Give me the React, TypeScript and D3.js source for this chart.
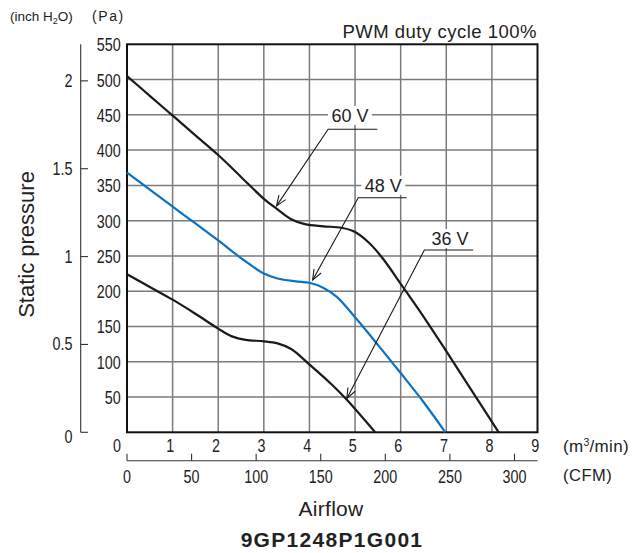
import React from 'react';
import * as d3 from 'd3';

// ---- Data ----
const airflowTicks = [0, 1, 2, 3, 4, 5, 6, 7, 8, 9]; // m3/min
const cfmTicks = [0, 50, 100, 150, 200, 250, 300];
const paTicks = [50, 100, 150, 200, 250, 300, 350, 400, 450, 500, 550];
const inchTicks = [0, 0.5, 1, 1.5, 2];

const v60Flow = [0, 0.5, 1, 1.5, 2, 2.5, 3.0, 3.3, 3.6, 3.9, 4.3, 4.7, 5.0, 5.3, 5.6, 6.06, 6.5, 7.0, 7.53, 8.15];
const v60Pa = [505, 477, 449, 421, 393, 362, 331, 316, 302, 295, 292, 290, 284, 269, 247, 205, 164, 115, 62, 0];

const v48Flow = [0, 0.5, 1, 1.5, 2, 2.5, 3.0, 3.3, 3.7, 4.0, 4.3, 4.6, 5.0, 5.5, 6.0, 6.5, 6.98];
const v48Pa = [368, 344, 320, 296, 272, 247, 225, 218, 214, 212, 205, 192, 163, 124, 84, 43, 0];

const v36Flow = [0, 0.5, 1, 1.5, 2, 2.3, 2.6, 3.0, 3.3, 3.6, 4.0, 4.5, 4.82, 5.44];
const v36Pa = [224, 206, 188, 168, 147, 136, 131, 129, 126, 118, 96, 67, 46, 0];

const seriesNames = ['60 V', '48 V', '36 V'];
const seriesColors = ['#1a1a1a', '#0a72c4', '#1a1a1a'];

// annotation: label centre flow, label baseline Pa, shoulder (flow, Pa), line end flow, arrow tip (flow, Pa)
const annLabelFlow = [4.89, 5.62, 7.08];
const annLabelPa = [440, 341, 265.5];
const annShoulderFlow = [4.41, 5.07, 6.52];
const annShoulderPa = [429.5, 332.5, 258.4];
const annEndFlow = [5.49, 6.13, 7.59];
const annTipFlow = [3.28, 4.07, 4.82];
const annTipPa = [321, 216, 48];

const CFM_TO_M3MIN = 0.0283168;
const INCH_TO_PA = 249.089;

const REG = "'Liberation Sans', Arial, Helvetica, sans-serif";
const NARROW_SCALE = 0.82;

function NText(props: { x: number; y: number; anchor?: string; size?: number; children: React.ReactNode }) {
  const { x, y, anchor = 'middle', size = 17.5, children } = props;
  return (
    <text
      transform={`translate(${x},${y}) scale(${NARROW_SCALE},1)`}
      textAnchor={anchor}
      fontFamily={REG}
      fontSize={size}
      fill="#222"
    >
      {children}
    </text>
  );
}

export default function App() {
  const W = 642, H = 553;
  const L = 127, R = 537.5, T = 44.3, B = 432.3;
  const x = d3.scaleLinear().domain([0, 9]).range([L, R]);
  const y = d3.scaleLinear().domain([0, 550]).range([B, T]);

  const line = d3
    .line<[number, number]>()
    .x((d) => x(d[0]))
    .y((d) => y(d[1]))
    .curve(d3.curveCatmullRom.alpha(0.5));

  const series = [
    d3.zip(v60Flow, v60Pa) as [number, number][],
    d3.zip(v48Flow, v48Pa) as [number, number][],
    d3.zip(v36Flow, v36Pa) as [number, number][],
  ];

  const cfmY = 460.7;
  const inchX = 80.7;

  const grid = '#7b7b7b';

  return (
    <svg
      width={W}
      height={H}
      style={{ position: 'absolute', left: 0, top: 0, background: '#fff' }}
    >
      <rect x={0} y={0} width={W} height={H} fill="#fff" />
      {/* header units */}
      <text x={10} y={21} fontFamily={REG} fontSize={13.5} fill="#222">
        (inch H<tspan fontSize={9} dy={3}>2</tspan>
        <tspan dy={-3}>O)</tspan>
      </text>
      <text x={92} y={21} fontFamily={REG} fontSize={14} letterSpacing={1.6} fill="#222">
        (Pa)
      </text>
      <text x={537} y={38} textAnchor="end" fontFamily={REG} fontSize={18.5} letterSpacing={0.5} fill="#222">
        PWM duty cycle 100%
      </text>

      {/* grid */}
      {airflowTicks.slice(1, -1).map((t) => (
        <line key={'gx' + t} x1={x(t)} x2={x(t)} y1={T} y2={B} stroke={grid} strokeWidth={1.5} />
      ))}
      {paTicks.slice(0, -1).map((t) => (
        <line key={'gy' + t} x1={L} x2={R} y1={y(t)} y2={y(t)} stroke={grid} strokeWidth={1.5} />
      ))}
      {/* border */}
      <rect x={L} y={T} width={R - L} height={B - T} fill="none" stroke="#111" strokeWidth={2} />

      {/* curves */}
      {series.map((s, i) => (
        <path
          key={'s' + i}
          d={line(s) || ''}
          fill="none"
          stroke={seriesColors[i]}
          strokeWidth={2.2}
          strokeLinejoin="round"
        />
      ))}

      {/* annotations */}
      {seriesNames.map((name, i) => {
        const sx = x(annShoulderFlow[i]);
        const sy = y(annShoulderPa[i]);
        const ex = x(annEndFlow[i]);
        const tx = x(annTipFlow[i]);
        const ty = y(annTipPa[i]);
        const ang = Math.atan2(sy - ty, sx - tx);
        const len = 11;
        const spread = 0.38;
        const a1 = [tx + len * Math.cos(ang + spread), ty + len * Math.sin(ang + spread)];
        const a2 = [tx + len * Math.cos(ang - spread), ty + len * Math.sin(ang - spread)];
        const lx = x(annLabelFlow[i]);
        const ly = y(annLabelPa[i]);
        return (
          <g key={'a' + i}>
            <rect x={lx - 22} y={ly - 16} width={44} height={19} fill="#fff" />
            <text x={lx} y={ly} textAnchor="middle" fontFamily={REG} fontSize={18} fill="#222">
              {name}
            </text>
            <polyline
              points={`${ex},${sy} ${sx},${sy} ${tx},${ty}`}
              fill="none"
              stroke="#1a1a1a"
              strokeWidth={1.1}
            />
            <polyline
              points={`${a1[0]},${a1[1]} ${tx},${ty} ${a2[0]},${a2[1]}`}
              fill="none"
              stroke="#1a1a1a"
              strokeWidth={1.1}
            />
          </g>
        );
      })}

      {/* Pa tick labels */}
      {paTicks.map((t) => (
        <NText key={'py' + t} x={120.7} y={y(t) + 7} anchor="end">
          {t}
        </NText>
      ))}

      {/* inch H2O axis */}
      <line x1={inchX} x2={inchX} y1={T} y2={B} stroke="#333" strokeWidth={1.1} />
      {inchTicks.map((t) => (
        <g key={'in' + t}>
          <line x1={inchX} x2={88} y1={y(t * INCH_TO_PA)} y2={y(t * INCH_TO_PA)} stroke="#333" strokeWidth={1.1} />
          <NText x={72.5} y={y(t * INCH_TO_PA) + (t === 0 ? 10.7 : 6)} anchor="end">
            {t}
          </NText>
        </g>
      ))}

      {/* m3/min labels */}
      {airflowTicks.map((t) => (
        <NText key={'xl' + t} x={t === 0 ? x(t) - 10 : x(t) - 2.3} y={451.7}>
          {t}
        </NText>
      ))}
      <text x={563} y={452} fontFamily={REG} fontSize={17} letterSpacing={0.3} fill="#222">
        (m<tspan fontSize={10.5} dy={-6}>3</tspan>
        <tspan dy={6}>/min)</tspan>
      </text>

      {/* CFM axis */}
      <line x1={L} x2={R} y1={cfmY} y2={cfmY} stroke="#333" strokeWidth={1.1} />
      {cfmTicks.map((t) => (
        <g key={'cfm' + t}>
          <line
            x1={x(t * CFM_TO_M3MIN)}
            x2={x(t * CFM_TO_M3MIN)}
            y1={cfmY}
            y2={cfmY - 7}
            stroke="#333"
            strokeWidth={1.1}
          />
          <NText x={x(t * CFM_TO_M3MIN)} y={482.7}>
            {t}
          </NText>
        </g>
      ))}
      <text x={563} y={481} fontFamily={REG} fontSize={16.5} letterSpacing={0.5} fill="#222">
        (CFM)
      </text>

      {/* axis titles */}
      <text
        transform="translate(33.5,244.5) rotate(-90)"
        textAnchor="middle"
        fontFamily={REG}
        fontSize={22}
        fill="#222"
      >
        Static pressure
      </text>
      <text x={331} y={516} textAnchor="middle" fontFamily={REG} fontSize={21} letterSpacing={0.3} fill="#222">
        Airflow
      </text>
      <text x={332} y={546.7} textAnchor="middle" fontFamily={REG} fontWeight="bold" fontSize={21} letterSpacing={1.3} fill="#222">
        9GP1248P1G001
      </text>
    </svg>
  );
}
